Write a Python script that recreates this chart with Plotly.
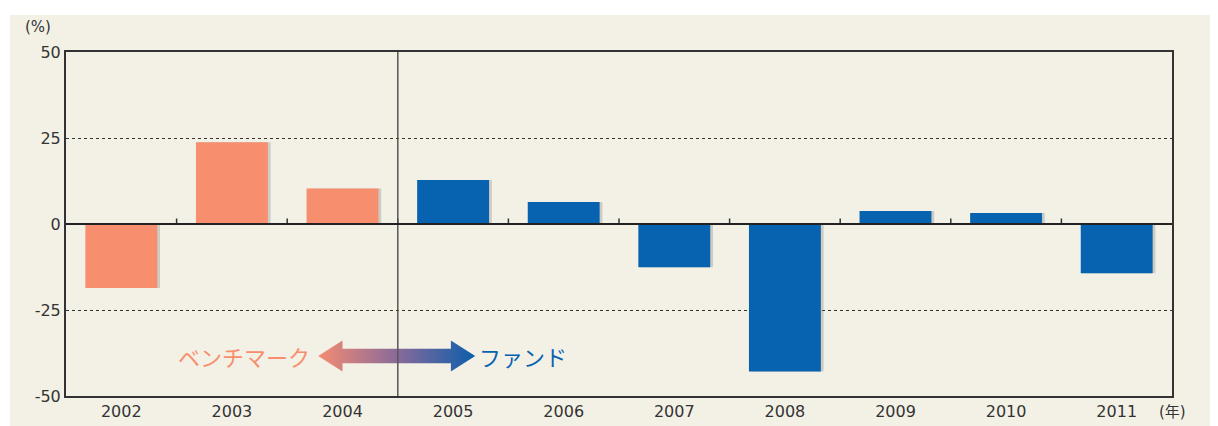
import plotly.graph_objects as go

years = [2002, 2003, 2004, 2005, 2006, 2007, 2008, 2009, 2010, 2011]
returns = [-18.6, 23.8, 10.3, 12.8, 6.4, -12.6, -42.9, 3.8, 3.2, -14.3]
groups = ["bench", "bench", "bench", "fund", "fund", "fund", "fund", "fund", "fund", "fund"]
y_ticks = [-50, -25, 0, 25, 50]
y_tick_labels = ["-50", "-25", "0", "25", "50"]
divider_year = 2004.5
bench_label = "ベンチマーク"
fund_label = "ファンド"

SALMON = "#f78f6f"
BLUE = "#0762b0"
BG = "#f3f1e6"

colors = [SALMON if g == "bench" else BLUE for g in groups]

fig = go.Figure()

# shadow
fig.add_trace(go.Bar(
    x=years, y=returns, width=0.65, offset=-0.30,
    marker=dict(color="rgba(120,120,120,0.3)", line=dict(width=0)),
    hoverinfo="skip", showlegend=False,
))
fig.add_trace(go.Bar(
    x=years, y=returns, width=0.65,
    marker=dict(color=colors, line=dict(width=0)),
    showlegend=False,
))

# arrow (gradient double arrow)
ax0, ax1 = 2003.78, 2005.20
ay, hh, sh, hl = -38.4, 4.5, 2.1, 0.22
arrow_x = [ax0, ax0 + hl, ax0 + hl, ax1 - hl, ax1 - hl, ax1, ax1 - hl, ax1 - hl, ax0 + hl, ax0 + hl, ax0]
arrow_y = [ay, ay + hh, ay + sh, ay + sh, ay + hh, ay, ay - hh, ay - sh, ay - sh, ay - hh, ay]
fig.add_trace(go.Scatter(
    x=arrow_x, y=arrow_y, mode="lines", fill="toself",
    line=dict(width=0, color="rgba(0,0,0,0)"),
    fillgradient=dict(type="horizontal", colorscale=[[0, "#f48c72"], [0.5, "#8a6a9a"], [1, "#0c5eaa"]]),
    hoverinfo="skip", showlegend=False,
))

shapes = []
# textured background
shapes.append(dict(type="rect", xref="paper", yref="paper", x0=-0.0506, x1=1.2, y0=-0.3, y1=1.1076,
                   fillcolor=BG, line=dict(width=0), layer="below"))
# boundary ticks on zero line
for b in [y + 0.5 for y in years[:-1]]:
    shapes.append(dict(type="line", x0=b, x1=b, y0=0, y1=1.6, line=dict(color="#333", width=1.5)))
# divider
shapes.append(dict(type="line", x0=divider_year, x1=divider_year, y0=-50, y1=50,
                   line=dict(color="#555", width=1.5)))
# zero line
shapes.append(dict(type="line", x0=2001.5, x1=2011.5, y0=0, y1=0, line=dict(color="#222", width=2)))

annotations = [
    dict(text="(%)", xref="paper", yref="paper", x=-0.0253, y=1.0727, showarrow=False,
         font=dict(size=15, color="#333"), xanchor="center", yanchor="middle"),
    dict(text="(年)", xref="paper", yref="paper", x=0.9864, y=-0.0465, showarrow=False,
         font=dict(size=15, color="#333"), xanchor="left", yanchor="middle"),
    dict(text=bench_label, x=ax0 - 0.06, y=ay, showarrow=False, xanchor="right",
         font=dict(size=22, color=SALMON, family="Noto Sans CJK JP")),
    dict(text=fund_label, x=ax1 + 0.02, y=ay, showarrow=False, xanchor="left",
         font=dict(size=22, color=BLUE, family="Noto Sans CJK JP")),
]

fig.update_layout(
    width=1218, height=426,
    margin=dict(l=58, r=54, t=44, b=38),
    paper_bgcolor="white", plot_bgcolor=BG,
    font=dict(family="DejaVu Sans, Noto Sans CJK JP", color="#333"),
    barmode="overlay", bargap=0.35,
    shapes=shapes, annotations=annotations,
    xaxis=dict(range=[2001.5, 2011.5], tickvals=years, ticktext=[str(y) for y in years],
               showgrid=False, zeroline=False, showline=True, mirror=True,
               linecolor="#333", linewidth=2, ticks="", tickfont=dict(size=16, color="#333")),
    yaxis=dict(range=[-50, 50], tickvals=y_ticks, ticktext=y_tick_labels, showgrid=True,
               gridcolor="#333", griddash="dot", gridwidth=1, zeroline=False, showline=True,
               mirror=True, linecolor="#333", linewidth=2, ticks="",
               tickfont=dict(size=16, color="#333")),
)

fig.write_html("out.html")
